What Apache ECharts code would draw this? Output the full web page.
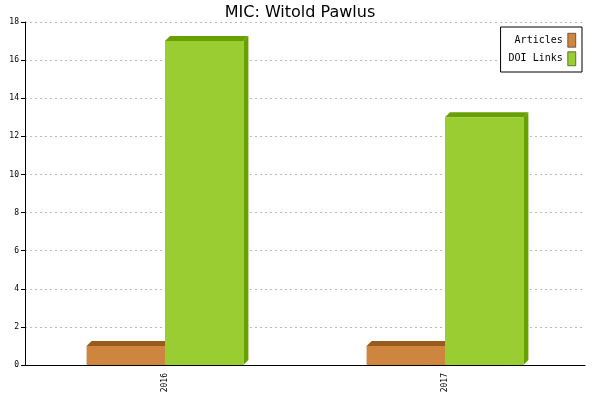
<!DOCTYPE html>
<html><head><meta charset="utf-8">
<script src="https://cdn.jsdelivr.net/npm/echarts@6/dist/echarts.min.js"></script>
<style>html,body{margin:0;padding:0;background:#fff}#c{width:600px;height:400px}</style>
</head><body><div id="c"></div>
<script>
const categories = ['2016', '2017'];
const articles = [1, 1];
const doiLinks = [17, 13];
const yTicks = [0, 2, 4, 6, 8, 10, 12, 14, 16, 18];

const chart = echarts.init(document.getElementById('c'));
function make3d(front, dark, side) {
  return function (params, api) {
    const ci = api.value(0), v = api.value(1);
    const top = api.coord([ci, v]);
    const base = api.coord([ci, 0]);
    const bw = api.size([1, 0])[0];
    const w = bw * 0.28;
    const x0 = side === 0 ? top[0] - w : top[0];
    const x1 = x0 + w;
    const d = 5;
    return {
      type: 'group',
      children: [
        { type: 'polygon', shape: { points: [[x0, top[1]], [x0 + d, top[1] - d], [x1 + d, top[1] - d], [x1, top[1]]] }, style: { fill: dark } },
        { type: 'polygon', shape: { points: [[x1, top[1]], [x1 + d, top[1] - d], [x1 + d, base[1] - d], [x1, base[1]]] }, style: { fill: dark } },
        { type: 'rect', shape: { x: x0, y: top[1], width: w, height: base[1] - top[1] }, style: { fill: front } }
      ]
    };
  };
}
const mono = 'DejaVu Sans Mono';
chart.setOption({
  animation: false,
  title: { text: 'MIC: Witold Pawlus', left: 'center', top: 0, textStyle: { fontFamily: 'DejaVu Sans', fontSize: 16, fontWeight: 'normal', color: '#000' } },
  legend: {
    right: 18, top: 27, orient: 'vertical', align: 'right', itemWidth: 8, itemHeight: 14, itemGap: 4,
    borderColor: '#000', borderWidth: 1, backgroundColor: '#fff', padding: [6, 6, 6, 8],
    textStyle: { fontFamily: mono, fontSize: 10, color: '#000' },
    data: [
      { name: 'Articles', icon: 'rect', itemStyle: { color: '#CD853F', borderColor: '#000', borderWidth: 0.5 } },
      { name: 'DOI Links', icon: 'rect', itemStyle: { color: '#9ACD32', borderColor: '#000', borderWidth: 0.5 } }
    ]
  },
  grid: { left: 25, right: 15, top: 22, bottom: 35 },
  xAxis: {
    type: 'category', data: categories, boundaryGap: true,
    axisLine: { lineStyle: { color: '#000' } },
    axisTick: { length: 5, lineStyle: { color: '#000' } },
    axisLabel: { rotate: 90, fontFamily: mono, fontSize: 8, color: '#000', margin: 8 }
  },
  yAxis: {
    type: 'value', min: 0, max: 18, interval: 2,
    axisLine: { show: true, lineStyle: { color: '#000' } },
    axisTick: { show: true, length: 4, lineStyle: { color: '#000' } },
    axisLabel: { fontFamily: mono, fontSize: 8, color: '#000', margin: 6, formatter: v => yTicks.includes(v) ? String(v) : '' },
    splitLine: { lineStyle: { color: '#bbb', type: [2, 3] } }
  },
  series: [
    { name: 'Articles', type: 'custom', itemStyle: { color: '#CD853F' }, renderItem: make3d('#CD853F', '#9a5a1a', 0), encode: { x: 0, y: 1 }, data: articles.map((v, i) => [i, v]) },
    { name: 'DOI Links', type: 'custom', itemStyle: { color: '#9ACD32' }, renderItem: make3d('#9ACD32', '#68a000', 1), encode: { x: 0, y: 1 }, data: doiLinks.map((v, i) => [i, v]) }
  ]
});
</script></body></html>
